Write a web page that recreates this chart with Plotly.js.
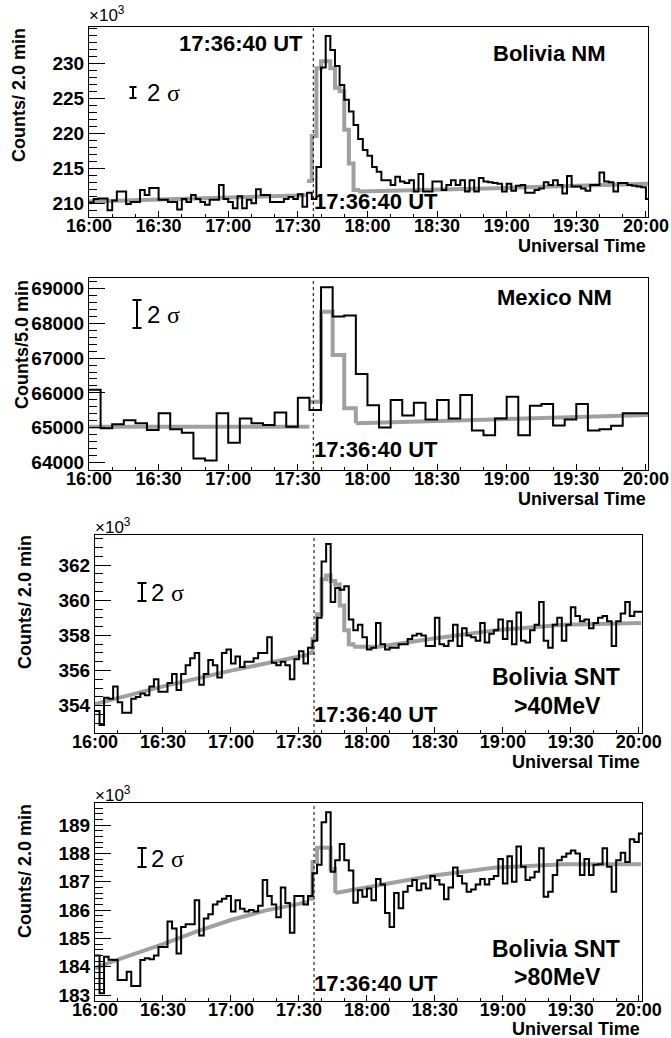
<!DOCTYPE html>
<html><head><meta charset="utf-8">
<script src="https://cdn.plot.ly/plotly-3.0.1.min.js"></script>
<style>html,body{margin:0;padding:0;background:#fff}#c{width:671px;height:1038px}</style>
</head><body><div id="c"></div>
<script>
// ---------- data ----------
const timeTickVals = [0, 30, 60, 90, 120, 150, 180, 210, 240]; // minutes after 16:00
const timeTickText = ['16:00','16:30','17:00','17:30','18:00','18:30','19:00','19:30','20:00'];
const eventTime = 96.667; // 17:36:40 UT

// Bolivia NM, counts / 2 min (x10^3)
const bolNMBin = 2;
const bolNM = [210.1,210.6,210.7,210.7,209.0,210.4,211.7,211.7,209.9,210.2,
 210.2,211.9,211.2,212.2,212.2,210.5,210.5,210.2,210.2,209.1,
 210.6,210.2,211.2,210.6,210.2,209.8,210.5,210.5,212.6,210.6,
 210.2,209.3,211.0,209.3,210.5,210.0,212.0,211.2,211.2,210.2,
 210.2,210.2,210.6,210.9,210.6,211.3,209.5,211.5,210.6,215.2,
 229.4,233.9,231.9,229.6,226.9,224.8,223.1,221.2,219.2,217.6,
 216.8,215.2,214.5,213.3,213.3,212.6,213.8,213.1,212.9,213.3,
 211.7,214.2,211.7,211.7,213.1,213.1,211.9,212.6,213.3,212.6,
 213.3,211.7,213.3,211.7,213.6,213.1,213.0,212.9,212.8,211.7,
 212.8,211.8,212.5,212.6,211.5,211.5,211.9,212.1,213.0,212.6,
 213.3,212.6,211.4,213.9,212.4,212.4,212.1,211.8,212.6,212.6,
 214.4,213.1,213.0,211.7,212.9,212.9,212.6,212.5,212.4,212.3,
 210.6];
const bolNMFitBaseT = [0, 30, 60, 90, 94, null, 116, 150, 180, 210, 241];
const bolNMFitBase  = [210.24, 210.5, 210.7, 211.1, 211.2, null, 211.7, 211.9, 212.2, 212.5, 212.8];
const bolNMFitEvtT  = [94, 96, 98, 100, 102, 104, 106, 108, 110, 112, 114, 116];
const bolNMFitEvt   = [213.2, 219.6, 229.3, 230.3, 230.3, 229.3, 226.5, 226.0, 220.5, 215.7, 211.9, 211.7];

// Mexico NM, counts / 5 min
const mexNMBin = 5;
const mexNM = [66090,64990,65100,65220,65130,64940,65420,64960,64860,64120,
 64060,65420,64570,65270,65130,65080,65440,65030,65860,65510,
 69030,68190,68220,66540,65650,65010,65800,65350,65720,65240,
 65800,65270,65940,64920,64790,65270,65890,64790,65630,65680,
 65070,65240,65680,64920,64960,65060,65420,65420,65420];
const mexNMFitBaseT = [0, 95, null, 115, 150, 180, 210, 241];
const mexNMFitBase  = [65030, 65030, null, 65130, 65200, 65260, 65320, 65370];
const mexNMFitEvtT  = [95, 100, 105, 110, 115];
const mexNMFitEvt   = [65750, 68330, 67090, 65560, 65130];

// Bolivia SNT >40 MeV, counts / 2 min (x10^3)
const snt40Bin = 2;
const snt40 = [353.7,352.9,354.45,354.4,355.1,354.2,353.6,353.6,354.4,354.5,
 354.7,354.6,355.1,355.5,354.8,354.8,355.3,355.8,354.9,355.8,
 356.3,356.7,357.0,355.2,355.8,356.6,356.3,355.6,357.0,357.2,
 356.4,356.8,356.2,356.5,356.5,356.7,357.0,357.0,357.9,356.45,
 356.3,356.5,356.3,355.5,356.65,357.1,356.4,357.3,357.7,359.0,
 362.2,363.2,359.9,360.7,360.6,360.8,358.9,358.3,358.6,357.9,
 357.2,357.3,358.7,357.5,357.2,357.3,357.3,357.5,357.5,357.8,
 358.0,358.1,358.0,357.4,357.4,359.0,357.5,357.4,357.7,358.6,
 357.4,358.4,358.0,357.9,357.7,358.7,357.6,358.1,358.3,358.9,
 357.8,358.8,357.5,359.3,357.7,357.6,358.3,358.6,359.9,357.7,
 357.3,358.6,359.0,357.7,358.6,359.6,359.1,358.8,358.9,358.4,
 358.7,359.0,359.1,358.8,357.4,358.8,359.25,359.9,359.1,359.35,
 359.35];
const snt40FitBaseT = [0, 30, 60, 90, 94, null, 114, 125, 148, 177, 207, 241];
const snt40FitBase  = [354.1, 355.1, 356.0, 356.8, 356.9, null, 357.35, 357.35, 357.8, 358.3, 358.6, 358.7];
const snt40FitEvtT  = [94, 96, 98, 100, 102, 104, 106, 108, 110, 112, 114];
const snt40FitEvt   = [357.0, 357.8, 359.2, 361.2, 361.4, 361.1, 360.9, 359.7, 358.3, 357.5, 357.35];

// Bolivia SNT >80 MeV, counts / 2 min (x10^3)
const snt80Bin = 2;
const snt80 = [184.4,183.06,184.35,184.25,184.24,183.53,183.53,183.82,183.32,183.32,
 184.24,184.3,184.26,184.4,184.7,184.7,185.6,185.35,184.47,185.4,
 185.5,185.5,186.35,185.1,185.7,185.85,186.2,186.3,186.4,186.5,
 185.95,186.35,186.05,185.95,186.0,185.95,186.15,187.06,186.5,186.2,
 185.75,186.8,186.25,185.2,186.5,186.5,186.2,186.5,187.3,187.6,
 189.1,189.45,187.35,187.76,188.33,187.76,187.4,186.26,186.7,186.47,
 186.76,186.35,187.1,186.9,185.9,185.4,186.6,186.06,186.65,186.85,
 187.06,186.7,186.94,186.76,187.2,187.06,186.9,186.38,186.8,187.5,
 187.2,186.94,186.65,186.73,186.9,187.1,186.9,187.1,187.2,187.8,
 186.94,187.9,187.0,188.24,187.53,187.06,187.15,187.35,188.18,186.47,
 186.65,187.24,187.76,187.88,188.0,188.1,188.0,187.24,187.8,187.24,
 187.6,187.62,188.18,187.53,186.65,187.76,188.02,187.7,188.5,188.4,
 188.7];
const snt80FitBaseT = [0, 10, 30, 45, 60, 75, 90, 94, null, 106, 120, 148, 177, 207, 241];
const snt80FitBase  = [183.95, 184.25, 184.8, 185.25, 185.65, 185.98, 186.22, 186.3, null, 186.6, 186.8, 187.2, 187.5, 187.62, 187.62];
const snt80FitEvtT  = [94, 96, 98, 100, 102, 104, 106];
const snt80FitEvt   = [186.4, 187.7, 188.2, 188.2, 188.2, 187.45, 186.6];

// ---------- drawing ----------
const W = 671, H = 1038;
const F = 'Liberation Sans, Arial, Helvetica, sans-serif';
const px = x => x / W, py = y => 1 - y / H;

function histTrace(vals, bw, xa, ya) {
  const x = [], y = [];
  vals.forEach((v, i) => { x.push(i * bw); y.push(v); });
  x.push(vals.length * bw); y.push(vals[vals.length - 1]);
  return {type:'scatter', mode:'lines', x, y, xaxis:xa, yaxis:ya,
    line:{shape:'hv', color:'#000', width:2}, hoverinfo:'skip', showlegend:false};
}
function fitTraces(bt, bv, et, ev, xa, ya) {
  const col = '#a0a0a0';
  return [
    {type:'scatter', mode:'lines', x:bt, y:bv, xaxis:xa, yaxis:ya, connectgaps:false,
     line:{shape:'linear', color:col, width:4}, hoverinfo:'skip', showlegend:false},
    {type:'scatter', mode:'lines', x:et, y:ev, xaxis:xa, yaxis:ya,
     line:{shape:'hv', color:col, width:4}, hoverinfo:'skip', showlegend:false}
  ];
}

const data = [
  ...fitTraces(bolNMFitBaseT, bolNMFitBase, bolNMFitEvtT, bolNMFitEvt, 'x', 'y'),
  histTrace(bolNM, bolNMBin, 'x', 'y'),
  ...fitTraces(mexNMFitBaseT, mexNMFitBase, mexNMFitEvtT, mexNMFitEvt, 'x2', 'y2'),
  histTrace(mexNM, mexNMBin, 'x2', 'y2'),
  ...fitTraces(snt40FitBaseT, snt40FitBase, snt40FitEvtT, snt40FitEvt, 'x3', 'y3'),
  histTrace(snt40, snt40Bin, 'x3', 'y3'),
  ...fitTraces(snt80FitBaseT, snt80FitBase, snt80FitEvtT, snt80FitEvt, 'x4', 'y4'),
  histTrace(snt80, snt80Bin, 'x4', 'y4'),
];

const tickFont = {family:F, size:19, weight:'bold', color:'#000'};
const xTickFont = {family:F, size:18, weight:'bold', color:'#000'};
function xAxis(dom, range, anchor) {
  return {domain:dom, range, anchor, tickmode:'array', tickvals:timeTickVals, ticktext:timeTickText,
    ticks:'inside', ticklen:6, tickwidth:1, tickcolor:'#000', ticklabelstandoff:-8,
    minor:{dtick:10, tick0:0, ticks:'inside', ticklen:3, tickwidth:1, tickcolor:'#000', showgrid:false},
    showline:true, mirror:true, linecolor:'#000', linewidth:1, showgrid:false, zeroline:false,
    tickfont:xTickFont, fixedrange:true};
}
function yAxis(dom, range, anchor, tv, minorDt, fmt) {
  return {domain:dom, range, anchor, tickmode:'array', tickvals:tv, tickformat:fmt,
    ticks:'inside', ticklen:16, tickwidth:1, tickcolor:'#000',
    minor:{dtick:minorDt, tick0:0, ticks:'inside', ticklen:8, tickwidth:1, tickcolor:'#000', showgrid:false},
    showline:true, mirror:true, linecolor:'#000', linewidth:1, showgrid:false, zeroline:false,
    tickfont:tickFont, fixedrange:true};
}

const d1x = [px(89), px(648)], d3x = [px(95), px(642)];
const layout = {
  width:W, height:H, autosize:false, margin:{l:0, r:0, t:0, b:0},
  paper_bgcolor:'#fff', plot_bgcolor:'#fff', showlegend:false,
  xaxis:  xAxis(d1x, [0, 240.9], 'y'),
  xaxis2: xAxis(d1x, [0, 240.9], 'y2'),
  xaxis3: xAxis(d3x, [0, 241.4], 'y3'),
  xaxis4: xAxis(d3x, [0, 241.4], 'y4'),
  yaxis:  yAxis([py(217), py(27)], [208.04, 235.19], 'x', [210,215,220,225,230], 1, 'd'),
  yaxis2: yAxis([py(470), py(278)], [63791, 69295], 'x2', [64000,65000,66000,67000,68000,69000], 200, 'd'),
  yaxis3: yAxis([py(733), py(535)], [352.45, 363.71], 'x3', [354,356,358,360,362], 0.5, 'd'),
  yaxis4: yAxis([py(1001), py(803)], [182.79, 189.78], 'x4', [183,184,185,186,187,188,189], 0.2, 'd'),
  shapes:[], annotations:[]
};

// event lines
[['x','y'],['x2','y2'],['x3','y3'],['x4','y4']].forEach(([xa, ya]) => {
  layout.shapes.push({type:'line', xref:xa, yref:ya + ' domain', x0:eventTime, x1:eventTime, y0:0, y1:1,
    line:{color:'#000', width:1, dash:'dot'}});
});

// 2-sigma bars
function sigmaBar(x, y0, y1, cap) {
  const l = {color:'#000', width:2};
  layout.shapes.push({type:'line', xref:'paper', yref:'paper', x0:px(x), x1:px(x), y0:py(y0), y1:py(y1), line:l});
  layout.shapes.push({type:'line', xref:'paper', yref:'paper', x0:px(x-cap), x1:px(x+cap), y0:py(y0), y1:py(y0), line:l});
  layout.shapes.push({type:'line', xref:'paper', yref:'paper', x0:px(x-cap), x1:px(x+cap), y0:py(y1), y1:py(y1), line:l});
}
sigmaBar(133, 87, 98, 3.5);
sigmaBar(137, 300, 328, 4.5);
sigmaBar(142, 583, 601, 4.5);
sigmaBar(142, 848, 867, 4.5);

function ann(text, x, y, opts) {
  layout.annotations.push(Object.assign({text, xref:'paper', yref:'paper', x:px(x), y:py(y),
    showarrow:false, xanchor:'left', yanchor:'middle', font:{family:F, size:19, color:'#000', weight:'bold'}}, opts || {}));
}
const sig = '2 <span style="font-family:Liberation Serif, Times New Roman, serif">σ</span>';
const sigFont = {font:{family:F, size:24, color:'#000'}};
ann(sig, 145, 92, sigFont);
ann(sig, 145, 314, sigFont);
ann(sig, 149, 592, sigFont);
ann(sig, 149, 858, sigFont);

const x10 = '×10<sup>3</sup>';
ann(x10, 87, 14, {font:{family:F, size:17, color:'#000'}});
ann(x10, 93, 526, {font:{family:F, size:17, color:'#000'}});
ann(x10, 93, 794, {font:{family:F, size:17, color:'#000'}});

const yt = {textangle:-90, xanchor:'center', font:{family:F, size:18, weight:'bold', color:'#000'}};
ann('Counts/ 2.0 min', 19, 95, yt);
ann('Counts/5.0 min', 22, 345, yt);
ann('Counts/ 2.0 min', 25, 602, yt);
ann('Counts/ 2.0 min', 25, 871, yt);

const ut = {xanchor:'right', font:{family:F, size:18, weight:'bold', color:'#000'}};
ann('Universal Time', 648, 246, ut);
ann('Universal Time', 648, 499, ut);
ann('Universal Time', 642, 762, ut);
ann('Universal Time', 642, 1029, ut);

const ev = {font:{family:F, size:22, weight:'bold', color:'#000'}};
ann('17:36:40 UT', 177, 43, ev);
ann('17:36:40 UT', 312, 201, ev);
ann('17:36:40 UT', 312, 450, ev);
ann('17:36:40 UT', 312, 714, ev);
ann('17:36:40 UT', 312, 983, ev);

const st = {xanchor:'center', font:{family:F, size:22, weight:'bold', color:'#000'}};
const st2 = {xanchor:'center', font:{family:F, size:23, weight:'bold', color:'#000'}};
ann('Bolivia NM', 549, 53, st);
ann('Mexico NM', 554, 297, st);
ann('Bolivia SNT', 556, 677, st2);
ann('&gt;40MeV', 557, 706, st2);
ann('Bolivia SNT', 556, 949, st2);
ann('&gt;80MeV', 557, 977, st2);

Plotly.newPlot('c', data, layout, {staticPlot:true, displayModeBar:false});
</script>
</body></html>
